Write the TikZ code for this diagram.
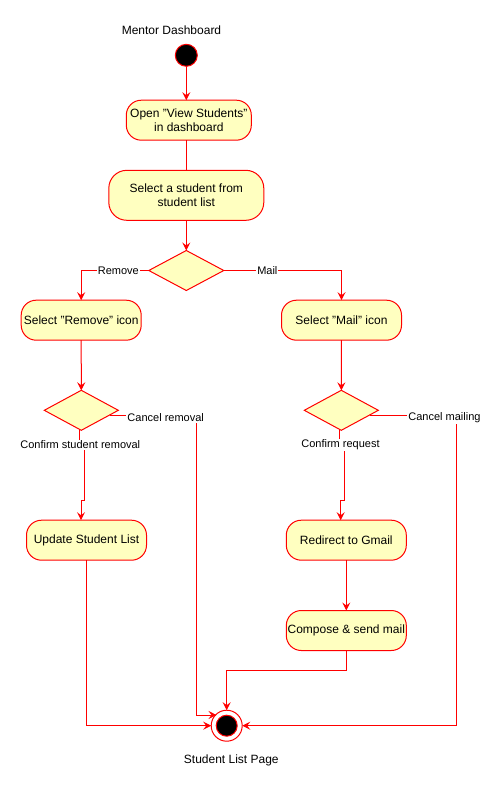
\documentclass[tikz,border=0pt]{standalone}
\usepackage{fontspec}
\setmainfont{Liberation Sans}
\usetikzlibrary{shapes.geometric,arrows.meta,calc}
\definecolor{umlred}{HTML}{FF0000}
\definecolor{umlfill}{HTML}{FFFFC0}

\begin{document}
\begin{tikzpicture}[
    x=1pt, y=-1pt,
    font=\fontsize{12}{14}\selectfont,
    line width=1pt,
    action/.style = {
      shape=rectangle,
      rounded corners=15pt,
      draw=umlred,
      fill=umlfill,
      minimum width=120pt,
      minimum height=40pt,
      inner sep=0pt,
      outer sep=0pt,
      align=center
    },
    decision/.style = {
      shape=diamond,
      draw=umlred,
      fill=umlfill,
      minimum width=74pt,
      minimum height=40pt,
      inner sep=0pt,
      outer sep=0pt
    },
    initial/.style = {circle, draw=umlred, fill=black, minimum size=22pt, inner sep=0pt, outer sep=0pt},
    final/.style = {circle, draw=umlred, fill=white, minimum size=31pt, inner sep=0pt, outer sep=0pt},
    finalcore/.style = {circle, draw=umlred, fill=black, minimum size=21pt, inner sep=0pt},
    flow/.style = {draw=umlred, -{Stealth[length=8pt,width=8pt,inset=3pt]}},
    link/.style = {draw=umlred},
    guard/.style = {font=\fontsize{11}{13}\selectfont, fill=white, inner sep=1pt}
    ]

    \useasboundingbox (0,0) rectangle (501,791);

    % start and end
    \node (title) at (171.5,30.3) {Mentor Dashboard};
    \node[initial] (start) at (186.3,55.3) {};
    \node[final] (stop) at (226.7,725.7) {};
    \node[finalcore] (stopcore) at (stop) {};
    \node (page) at (231.3,760.7) {Student List Page};

    % actions
    \node[action, minimum width=125pt] (open) at (188.8,120.2) {Open "View Students"\\in dashboard};
    \node[action, minimum width=155pt, minimum height=50pt, rounded corners=18pt] (select) at (186.3,195.3) {Select a student from\\student list};
    \node[action] (remove) at (81.2,320.2) {Select "Remove" icon};
    \node[action] (mail) at (341.5,320.2) {Select "Mail" icon};
    \node[action] (update) at (86.5,540.2) {Update Student List};
    \node[action] (gmail) at (346.3,540.2) {Redirect to Gmail};
    \node[action] (compose) at (346.3,630.5) {Compose \& send mail};

    % decisions
    \node[decision, minimum width=75pt] (choice) at (186.3,270.5) {};
    \node[decision] (confirmrm) at (81.3,410.3) {};
    \node[decision] (confirmml) at (341.3,410.3) {};

    % flows
    \draw[flow] (start) -- (start |- open.north);
    \draw[link] (open.south -| select) -- (select.north);
    \draw[flow] (select) -- (choice);
    \draw[flow] (choice.west) -- node[guard, pos=0.45] {Remove} (remove.north |- choice) -- (remove.north);
    \draw[flow] (choice.east) -- node[guard, pos=0.37] {Mail} (mail.north |- choice) -- (mail.north);
    \draw[flow] (remove) -- (confirmrm);
    \draw[flow] (mail) -- (confirmml);

    \draw[flow] ($(confirmrm.east)+(-8.5,5)$) -- (196.7,415.3) -- (196.7,715) -- (216.5,715);
    \node[guard] (cancelrm) at (165.7,418) {Cancel removal};
    \draw[flow] ($(confirmml.east)+(-8.5,5)$) -- (456.3,415.3) -- (456.3,725.7) -- (stop.east);
    \node[guard] (cancelml) at (444.5,418) {Cancel mailing};

    \draw[flow] ([xshift=-2pt]confirmrm.south) -- ++(0,15) -- ++(5,0) -- (84.3,500) -- (81,500) -- (81,500 |- update.north);
    \node[guard] (okrm) at (80.3,445) {Confirm student removal};
    \draw[flow] ([xshift=-1.6pt]confirmml.south) -- ++(0,15) -- ++(4.6,0) -- (344.3,500) -- (340.7,500) -- (340.7,500 |- gmail.north);
    \node[guard] (okml) at (340.5,445) {Confirm request};

    \draw[flow] (gmail) -- (compose);
    \draw[flow] (compose.south) -- ++(0,19.7) -| (stop.north);
    \draw[flow] (update.south) |- (stop.west);

  \end{tikzpicture}
\end{document}
